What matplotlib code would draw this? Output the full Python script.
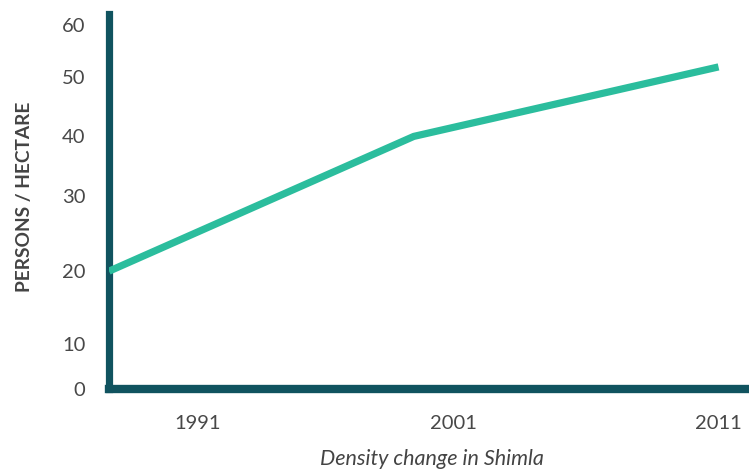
import numpy as np
import matplotlib
matplotlib.use("Agg")
import matplotlib.pyplot as plt

years = [1991, 2001, 2011]
density = [20, 40, 52]  # persons / hectare
y_ticks = [0, 10, 20, 30, 40, 50, 60]
x_tick_labels = ["1991", "2001", "2011"]

# the original axis is not evenly spaced, so use a piecewise scale
knot_vals = np.array([0, 10, 20, 30, 40, 50, 60, 70])
knot_h = np.array([0, 45, 118, 193, 253, 312, 365, 418])

def fwd(v):
    return np.interp(v, knot_vals, knot_h)

def inv(h):
    return np.interp(h, knot_h, knot_vals)

plt.rcParams["font.family"] = ["Lato", "DejaVu Sans"]

fig = plt.figure(figsize=(7.49, 4.71), dpi=100)
ax = fig.add_axes([109 / 749, 82 / 471, 1 - 109 / 749, 375 / 471])

ax.plot(years, density, color="#2bbd9d", lw=5.2, solid_capstyle="butt", zorder=3)

ax.set_yscale("function", functions=(fwd, inv))
ax.set_ylim(0, 62)
ax.set_xlim(1991, 2012)

ax.set_yticks(y_ticks)
ax.set_yticklabels([str(t) for t in y_ticks])
ax.set_xticks([1993.9, 2002.3, 2011])
ax.set_xticklabels(x_tick_labels)
ax.yaxis.set_minor_locator(matplotlib.ticker.NullLocator())
ax.tick_params(axis="both", length=0, labelsize=14.5, labelcolor="#484848")
ax.tick_params(axis="y", pad=17)
ax.tick_params(axis="x", pad=19)

for s in ["top", "right"]:
    ax.spines[s].set_visible(False)
ax.spines["left"].set_linewidth(5.2)
ax.spines["bottom"].set_linewidth(6)
ax.spines["left"].set_color("#10535f")
ax.spines["bottom"].set_color("#10535f")
ax.spines["left"].set_capstyle("projecting")

fig.text(25 / 749, 1 - 197 / 471, "PERSONS / HECTARE", rotation=90, ha="center",
         va="center", fontsize=13.8, fontweight="bold", color="#444444")
fig.text(432 / 749, 1 - 459 / 471, "Density change in Shimla", ha="center",
         va="center", fontsize=15.5, style="italic", color="#444444")

fig.savefig("out.png", dpi=100)
